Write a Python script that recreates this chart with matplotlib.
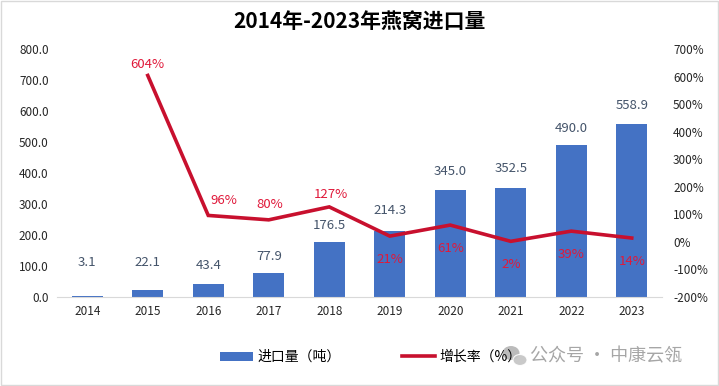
import matplotlib
matplotlib.use("Agg")
import matplotlib.pyplot as plt
from matplotlib.patches import Patch, Ellipse
from matplotlib.lines import Line2D

plt.rcParams['font.family'] = ['Noto Sans CJK SC', 'DejaVu Sans']

years = ['2014', '2015', '2016', '2017', '2018', '2019', '2020', '2021', '2022', '2023']
imports = [3.1, 22.1, 43.4, 77.9, 176.5, 214.3, 345.0, 352.5, 490.0, 558.9]
growth = [None, 604, 96, 80, 127, 21, 61, 2, 39, 14]
left_ticks = [0, 100, 200, 300, 400, 500, 600, 700, 800]
right_ticks = [-200, -100, 0, 100, 200, 300, 400, 500, 600, 700]

# label offsets (points): bar labels above, growth labels
bar_off = [24, 20, 13, 11.5, 12, 14.5, 13, 14, 12, 13.5]
gr_off = [None, (0, 8), (11, 11), (1, 11), (1, 9), (0, -17), (0, -17), (0, -17), (0, -17), (0, -17)]

bar_color = '#4472C4'
line_color = '#C8102E'
label_red = '#E0193A'
label_blue = '#44546A'

W, H = 719, 386
fig = plt.figure(figsize=(W / 100, H / 100), dpi=100)
fig.patches.append(plt.Rectangle((0.002, 0.003), 0.996, 0.994, transform=fig.transFigure,
                                 fill=False, edgecolor='#D9D9D9', linewidth=1))
ax = fig.add_axes([0.0793, 0.2306, 0.8414, 0.6424])
x = list(range(len(years)))
ax.bar(x, imports, width=0.52, color=bar_color, zorder=2)
ax.set_xlim(-0.5, len(years) - 0.5)
ax.set_ylim(0, 800)
ax.set_yticks(left_ticks)
ax.set_yticklabels([f'{v:.1f}' for v in left_ticks], fontsize=8.5, color='#262626')
ax.set_xticks(x)
ax.set_xticklabels(years, fontsize=8.5, color='#262626')
ax.tick_params(length=0, pad=6)
for s in ['top', 'right', 'left']:
    ax.spines[s].set_visible(False)
ax.spines['bottom'].set_color('#D9D9D9')

for xi, v, off in zip(x, imports, bar_off):
    ax.annotate(f'{v:.1f}', (xi, v), xytext=(0, off), textcoords='offset points',
                ha='center', va='center', fontsize=9.5, color=label_blue)

ax2 = ax.twinx()
gx = [xi for xi, g in zip(x, growth) if g is not None]
gy = [g for g in growth if g is not None]
ax2.plot(gx, gy, color=line_color, linewidth=2.6, zorder=3, solid_joinstyle='miter')
ax2.set_ylim(-200, 700)
ax2.set_yticks(right_ticks)
ax2.set_yticklabels([f'{v}%' for v in right_ticks], fontsize=8.5, color='#262626')
ax2.tick_params(length=0, pad=8)
for s in ['top', 'right', 'left', 'bottom']:
    ax2.spines[s].set_visible(False)
for xi, g, off in zip(x, growth, gr_off):
    if g is None:
        continue
    ax2.annotate(f'{g}%', (xi, g), xytext=off, textcoords='offset points',
                 ha='center', va='center', fontsize=9.5, color=label_red, zorder=4)

fig.text(0.5, 1 - 21 / H, '2014年-2023年燕窝进口量', ha='center', va='center',
         fontsize=15, fontweight='bold', color='#000000')

handles = [Patch(facecolor=bar_color, edgecolor='none'),
           Line2D([0], [0], color=line_color, linewidth=2.6)]
fig.legend(handles, ['进口量（吨）', '增长率（%）'], loc='center left',
           bbox_to_anchor=(213 / W, 1 - 357 / H), borderpad=0,
           ncol=2, frameon=False, fontsize=10, handlelength=2.4, handleheight=0.6,
           columnspacing=4.4, handletextpad=0.3)

# watermark (WeChat-style icon + text)
fig.patches.append(Ellipse((511 / W, 1 - 353 / H), 17 / W, 14 / H, transform=fig.transFigure,
                           facecolor='#B0B0B0', edgecolor='none', alpha=0.85, zorder=5))
fig.patches.append(Ellipse((520 / W, 1 - 360 / H), 14 / W, 11 / H, transform=fig.transFigure,
                           facecolor='#C4C4C4', edgecolor='white', linewidth=0.8, alpha=0.9, zorder=6))
fig.text(530 / W, 1 - 356 / H, '公众号 · 中康云瓴', ha='left', va='center', fontsize=13,
         color='#A6A6A6')

fig.savefig('out.png', dpi=100)
